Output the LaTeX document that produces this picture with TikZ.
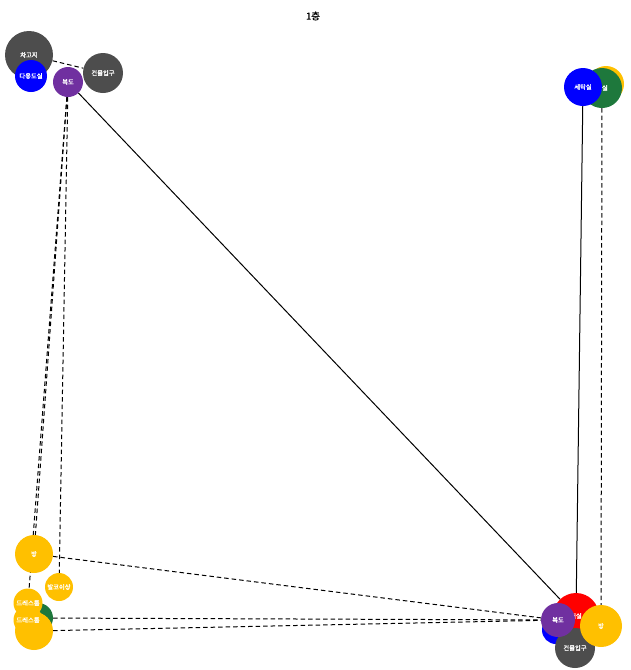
\documentclass[tikz,border=0pt]{standalone}
\usepackage{fontspec}
\setmainfont{Noto Sans CJK KR}
\newfontfamily\roomfont[FakeBold=1.2]{Noto Sans CJK KR}
\usetikzlibrary{backgrounds}
\definecolor{roomgray}{RGB}{77,77,77}
\definecolor{roomblue}{RGB}{0,0,255}
\definecolor{roompurple}{RGB}{112,48,160}
\definecolor{roomgreen}{RGB}{30,120,60}
\definecolor{roomyellow}{RGB}{255,192,0}
\definecolor{roomred}{RGB}{255,0,0}

\begin{document}
\begin{tikzpicture}[x=1pt, y=-1pt,
				room/.style={circle, inner sep=0pt, text=white, font=\roomfont\fontsize{6.3}{7}\selectfont},
				link/.style={draw, line width=1pt},
				dlink/.style={link, dash pattern=on 4.5pt off 3pt}]
				\useasboundingbox (0,0) rectangle (630,670);
				\node (title) at (313,16) {\roomfont\fontsize{9.5}{11}\selectfont 1층};
				
				% top left
				\node[room, fill=roomgray, minimum size=48pt] (garage) at (29,55) {차고지};
				\node[room, fill=roomblue, minimum size=32pt] (utility) at (31,76) {다용도실};
				\node[room, fill=roompurple, minimum size=30pt] (hallA) at (68,82) {복도};
				\node[room, fill=roomgray, minimum size=40pt] (entryA) at (103,73) {건물입구};
				
				% top right
				\node[room, fill=roomyellow, minimum size=36pt] (yellowA) at (606,84) {};
				\node[room, fill=roomgreen, minimum size=40pt] (bath) at (602,88) {욕실};
				\node[room, fill=roomblue, minimum size=38pt] (laundry) at (583,87) {세탁실};
				
				% bottom left
				\node[room, fill=roomyellow, minimum size=38pt] (roomA) at (34,554) {방};
				\node[room, fill=roomyellow, minimum size=28pt] (balcony) at (59,587) {발코이상};
				\node[room, fill=roomgreen, minimum size=30pt] (greenB) at (38,618) {};
				\node[room, fill=roomyellow, minimum size=38pt] (yellowB) at (34,631) {};
				\node[room, fill=roomyellow, minimum size=29pt] (dressA) at (28,603) {드레스룸};
				\node[room, fill=roomyellow, minimum size=29pt] (dressB) at (28,620) {드레스룸};
				
				% bottom right
				\node[room, fill=roomblue, minimum size=28pt] (blueC) at (556,630) {};
				\node[room, fill=roomred, minimum size=46pt] (living) at (576,616) {거실};
				\node[room, fill=roomgray, minimum size=40pt] (entryB) at (575,648) {건물입구};
				\node[room, fill=roompurple, minimum size=34pt] (hallB) at (558,620) {복도};
				\node[room, fill=roomyellow, minimum size=42pt] (roomB) at (601,626) {방};
				
				\begin{scope}[on background layer]
				\draw[link] (hallA) -- (living);
				\draw[link] (laundry) -- (living);
				\draw[dlink] (bath) -- (roomB);
				\draw[dlink] (garage) -- (entryA);
				\draw[dlink] (hallA) -- (roomA);
				\draw[dlink] (hallA) -- (dressA);
				\draw[dlink] (hallA) -- (balcony);
				\draw[dlink] (roomA) -- (hallB);
				\draw[dlink] (greenB) -- (hallB);
				\draw[dlink] (yellowB) -- (hallB);
				\end{scope}
			\end{tikzpicture}
\end{document}
